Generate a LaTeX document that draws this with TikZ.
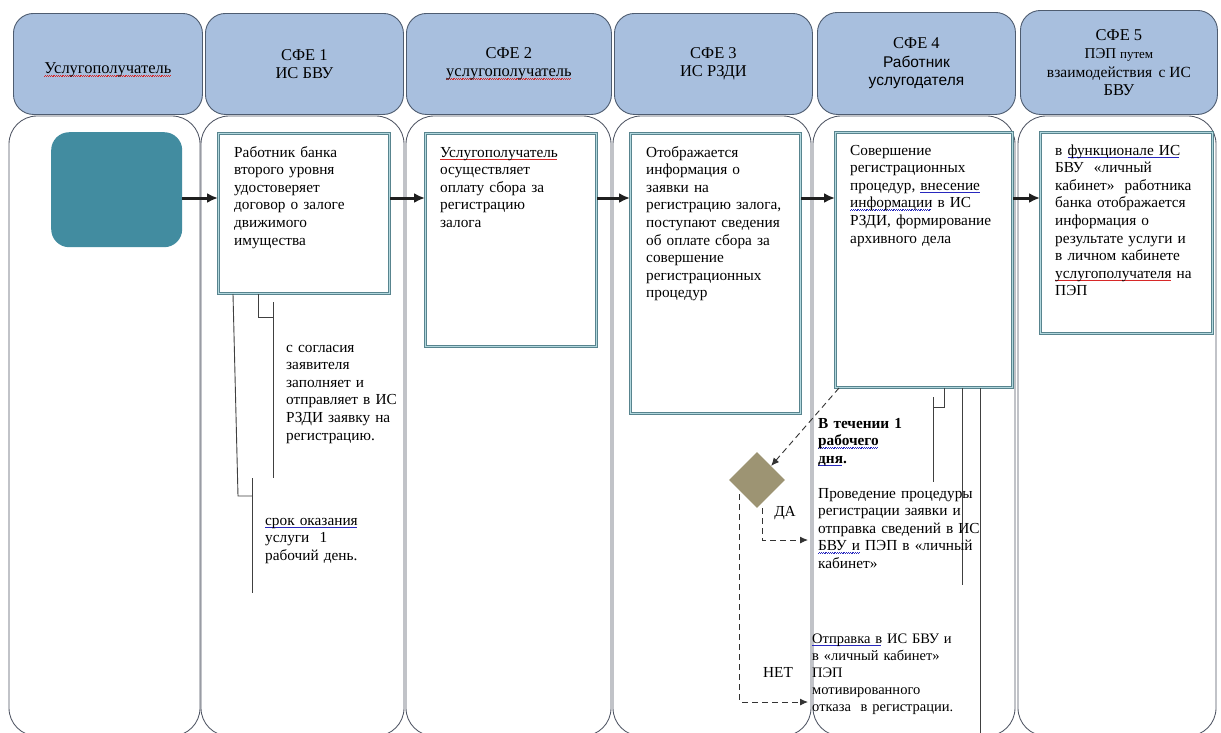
\documentclass[tikz,border=0pt]{standalone}
\usepackage{fontspec}
\setmainfont{Liberation Serif}
\newfontfamily\sansfnt{Liberation Sans}
\usetikzlibrary{shapes.geometric,arrows.meta}
\definecolor{hdrfill}{RGB}{168,191,222}
\definecolor{hdrdraw}{RGB}{78,92,112}
\definecolor{lanedraw}{RGB}{80,86,100}
\definecolor{boxdraw}{RGB}{88,132,142}
\definecolor{boxinner}{RGB}{178,216,222}
\definecolor{startfill}{RGB}{66,140,160}
\definecolor{decfill}{RGB}{157,148,115}
\definecolor{spellred}{RGB}{215,40,40}
\definecolor{spellblue}{RGB}{40,40,190}
\newsavebox\spbox
\newcommand\spw[2]{\leavevmode\sbox\spbox{#2}\rlap{\hbox to \wd\spbox{\color{#1}\leaders\hbox{\rule[-2.8pt]{0.9pt}{0.6pt}\rule[-2.1pt]{0.9pt}{0.6pt}}\hfill}}\usebox\spbox}
\newcommand\rw[1]{\spw{spellred}{#1}}
\newcommand\bw[1]{\spw{spellblue}{#1}}
\newcommand\bodyfnt{\fontsize{15.3}{17.6}\selectfont}
\newcommand\hdrfnt{\fontsize{16.5}{18.5}\selectfont}
\begin{document}
\begin{tikzpicture}[x=1pt,y=-1pt,
 lane/.style={draw=lanedraw,line width=0.85pt,rounded corners=28pt,fill=white},
 hdr/.style={draw=hdrdraw,line width=0.9pt,fill=hdrfill,rounded corners=20pt,anchor=north west,align=center,inner sep=0pt,font=\hdrfnt},
 procbox/.style={draw=boxdraw,line width=1pt,double=boxinner,double distance=1.1pt,fill=white,anchor=north west,inner sep=0pt},
 txt/.style={anchor=base west,align=left,inner sep=0pt,font=\bodyfnt,text width=#1},
 txt/.default=160pt,
 flow/.style={draw=black!88,line width=3pt,-{Latex[length=11pt,width=10pt]}},
 dflow/.style={draw=black!80,line width=0.9pt,dash pattern=on 6pt off 4pt,-{Latex[length=8pt,width=7pt]}},
 callout/.style={draw=black!75,line width=0.9pt},
 lbl/.style={inner sep=0pt,font=\bodyfnt},
]
\useasboundingbox (0,0) rectangle (1221,732);
\clip (0,0) rectangle (1221,732);
\fill[white] (0,0) rectangle (1221,732);
% swimlane bodies
\foreach \a/\b in {9/200,201/404,406/611,613/811,813/1015,1018/1216}
  \draw[lane] (\a,116) rectangle (\b,736);
% headers
\node[hdr,minimum width=189,minimum height=101] (h1) at (13,13) {\raisebox{-10pt}[0pt][0pt]{\rw{Услугополучатель}}};
\node[hdr,minimum width=198,minimum height=101] (h2) at (205,13) {СФЕ 1\\ИС БВУ};
\node[hdr,minimum width=205,minimum height=101] (h3) at (406,13) {СФЕ 2\\\rw{услугополучатель}};
\node[hdr,minimum width=198,minimum height=101] (h4) at (614,13) {СФЕ 3\\ИС РЗДИ};
\node[hdr,minimum width=198,minimum height=102] (h5) at (817,12) {СФЕ 4\\{\sansfnt\fontsize{15.5}{18.5}\selectfont Работник}\\{\sansfnt\fontsize{15.5}{18.5}\selectfont услугодателя}};
\node[hdr,minimum width=197,minimum height=104] (h6) at (1020,10) {СФЕ 5\\{\fontsize{15}{17}\selectfont ПЭП {\fontsize{13}{17}\selectfont путем}}\\{\fontsize{15.5}{17}\selectfont взаимодействия \,с ИС}\\БВУ};
% start
\node[fill=startfill,rounded corners=18pt,minimum width=131,minimum height=115,anchor=north west,inner sep=0pt] (start) at (51,132) {};
% process boxes
\node[procbox,minimum width=171,minimum height=160] (b1) at (218,133) {};
\node[procbox,minimum width=171,minimum height=213] (b2) at (425,133) {};
\node[procbox,minimum width=170,minimum height=280] (b3) at (630,133) {};
\node[procbox,minimum width=177,minimum height=255] (b4) at (835,132) {};
\node[procbox,minimum width=172,minimum height=201] (b5) at (1040,132) {};
\node[txt=150pt] (b1t) at (234,157) {Работник банка\\второго уровня\\удостоверяет\\договор о залоге\\движимого\\имущества};
\node[txt=150pt] (b2t) at (440,157) {\rw{Услугополучатель}\\осуществляет\\оплату сбора за\\регистрацию\\залога};
\node[txt=155pt] (b3t) at (646,157) {Отображается\\информация о\\заявки на\\регистрацию залога,\\поступают сведения\\об оплате сбора за\\совершение\\регистрационных\\процедур};
\node[txt=160pt] (b4t) at (850,155) {Совершение\\регистрационных\\процедур, \bw{внесение}\\\bw{информации} в ИС\\РЗДИ, формирование\\архивного дела};
\node[txt=160pt] (b5t) at (1055,155) {в \bw{функционале ИС}\\БВУ \ «личный\\кабинет» \ работника\\банка отображается\\информация о\\результате услуги и\\в личном кабинете\\\rw{услугополучателя} на\\ПЭП};
% main flow
\coordinate (fy) at (0,198);
\draw[flow] (start.east |- fy) -- (b1.west |- fy);
\draw[flow] (b1.east |- fy) -- (b2.west |- fy);
\draw[flow] (b2.east |- fy) -- (b3.west |- fy);
\draw[flow] (b3.east |- fy) -- (b4.west |- fy);
\draw[flow] (b4.east |- fy) -- (b5.west |- fy);
% callouts under box 1
\node[txt=120pt] (c1) at (286,352) {с согласия\\заявителя\\заполняет и\\отправляет в ИС\\РЗДИ заявку на\\регистрацию.};
\node[txt=120pt] (c2) at (265,525) {\bw{срок оказания}\\услуги \ 1\\рабочий день.};
\draw[callout] (b1.south -| 258,0) -- (258,317) -- (273,317);
\draw[callout] (273,302) -- (273,478);
\draw[callout] (b1.south -| 233,0) -- (238,496) -- (252,496);
\draw[callout] (252,478) -- (252,593);
% lines under box 4
\draw[callout] (b4.south -| 944,0) -- (944,407) -- (933,407);
\draw[callout] (933,397) -- (933,482);
\draw[callout] (b4.south -| 962,0) -- (962,585);
\draw[callout] (b4.south -| 980,0) -- (980,742);
% decision
\node[diamond,fill=decfill,minimum width=56,minimum height=56,inner sep=0pt] (dia) at (757,480) {};
\node[txt=140pt,font=\bodyfnt\bfseries] (t1) at (818,428) {В течении 1\\\bw{рабочего}\\\bw{дня}.};
\node[txt=170pt] (t2) at (818,498) {Проведение процедуры\\регистрации заявки и\\отправка сведений в ИС\\\bw{БВУ и} ПЭП в «личный\\кабинет»};
\node[txt=160pt,font=\fontsize{14.5}{17}\selectfont] (t3) at (812,643) {\bw{Отправка в} ИС БВУ и\\в «личный кабинет»\\ПЭП\\мотивированного\\отказа \ в регистрации.};
\coordinate (daend) at (808,540);
\coordinate (netend) at (808,702);
\draw[dflow] ([xshift=4pt]b4.south west) -- (dia.north east);
\draw[dflow] ([xshift=5pt]dia.south) |- (daend);
\draw[dflow] ([xshift=-3pt]dia.south west) |- (netend);
\node[lbl] (da) at (785,513) {ДА};
\node[lbl] (net) at (778,672) {НЕТ};
\end{tikzpicture}
\end{document}
